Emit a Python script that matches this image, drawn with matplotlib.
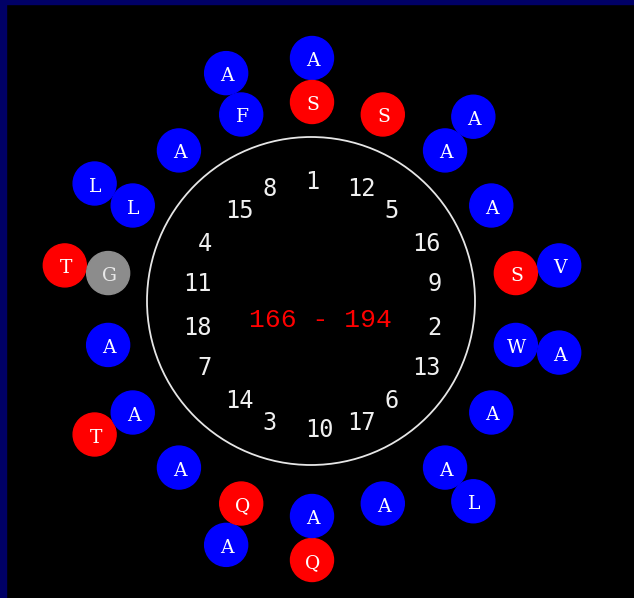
import numpy as np
import matplotlib
matplotlib.use("Agg")
import matplotlib.pyplot as plt
from matplotlib.patches import Circle, Rectangle

# helical wheel, residues 166-194
sequence = list("SWQLAAAFSAGSAAAAAAAAALALTAVQT")
first_res = 166
last_res = 194
hydrophobic = "AVLIFWMC"
polar = "STQNYHKRDE"
colors = {"hydrophobic": "#0000ff", "polar": "#ff0000", "other": "#8c8c8c"}

W, H = 634, 598
ring_c = (311, 301)      # white circle
ring_r = 164
res_c = (312, 309)       # residue wheel
res_r = [207, 251]       # first turn / second turn
dot_r = 21.5
num_r = 124
step = 100.0             # degrees per residue

fig = plt.figure(figsize=(W / 100, H / 100), dpi=100)
fig.patch.set_facecolor("black")
ax = fig.add_axes([0, 0, 1, 1])
ax.set_xlim(0, W)
ax.set_ylim(H, 0)
ax.set_aspect("equal")
ax.axis("off")
ax.add_patch(Rectangle((0, 0), W, H, color="black", zorder=0))
ax.add_patch(Rectangle((0, 0), W, 4, color="#000066", zorder=1))
ax.add_patch(Rectangle((0, 0), 6, H, color="#000066", zorder=1))

ax.add_patch(Circle(ring_c, ring_r, fill=False, ec="#e6e6e6", lw=1.3, zorder=2))

# position numbers 1..18 inside the ring
for i in range(18):
    th = np.deg2rad((i * step) % 360)
    x = ring_c[0] - 6 + num_r * np.sin(th)
    y = ring_c[1] + 12 - num_r * np.cos(th)
    ax.text(x, y, str(i + 1), color="#f0f0f0", fontsize=17,
            family="DejaVu Sans Mono", ha="left", va="baseline", zorder=3)

ax.text(ring_c[0] + 9, ring_c[1] + 26, "%d - %d" % (first_res, last_res),
        color="#ff0000", fontsize=19, family="Liberation Mono",
        ha="center", va="baseline", zorder=3)

# residues, second turn drawn first so the inner ones sit on top
for i in reversed(range(len(sequence))):
    aa = sequence[i]
    th = np.deg2rad((i * step) % 360)
    r = res_r[i // 18]
    x = res_c[0] + r * np.sin(th)
    y = res_c[1] - r * np.cos(th)
    if aa in hydrophobic:
        c = colors["hydrophobic"]
    elif aa in polar:
        c = colors["polar"]
    else:
        c = colors["other"]
    ax.add_patch(Circle((x, y), dot_r, color=c, zorder=4 + (18 - i) * 0.01))
    ax.text(x + 1, y + 8, aa, color="#e8e8e8" if aa == "G" else "white",
            fontsize=13.5, family="DejaVu Serif", ha="center", va="baseline",
            zorder=5)

fig.savefig("out.png", dpi=100, facecolor="black")
